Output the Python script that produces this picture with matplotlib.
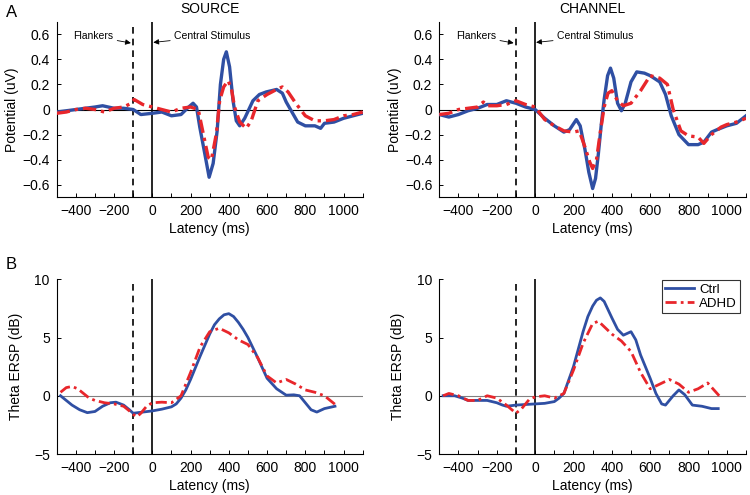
import matplotlib
matplotlib.use("Agg")
import matplotlib.pyplot as plt
from matplotlib.ticker import FuncFormatter, MultipleLocator

plt.rcParams['font.family'] = ['Liberation Sans', 'DejaVu Sans']

BLUE = '#2f4fa3'
RED = '#e8262b'

## ERP, source (uV)
src_ctrl_t = [-500, -450, -400, -350, -300, -260, -200, -150, -100, -60, 0, 50, 100, 150,
              190, 213, 231, 248, 274, 297, 318, 339, 356, 373, 387, 404, 422, 439, 457,
              483, 526, 560, 595, 650, 680, 700, 730, 760, 800, 850, 880, 900, 950, 1000,
              1050, 1100]
src_ctrl = [-0.02, -0.01, 0.0, 0.01, 0.02, 0.03, 0.01, 0.01, 0.0, -0.04, -0.03, -0.02, -0.05,
            -0.04, 0.02, 0.05, 0.02, -0.14, -0.35, -0.54, -0.43, -0.17, 0.2, 0.4, 0.46,
            0.34, 0.07, -0.09, -0.13, -0.07, 0.07, 0.12, 0.14, 0.16, 0.13, 0.06, -0.02,
            -0.10, -0.13, -0.13, -0.15, -0.11, -0.10, -0.07, -0.05, -0.03]

src_adhd_t = [-500, -450, -400, -350, -300, -250, -200, -150, -110, -95, -50, 0, 50, 100,
              150, 200, 240, 266, 292, 309, 335, 352, 373, 396, 413, 430, 457, 491, 517,
              552, 600, 650, 680, 710, 750, 800, 850, 900, 950, 1000, 1050, 1100]
src_adhd = [-0.03, -0.02, 0.0, 0.01, 0.0, -0.02, 0.01, 0.02, 0.05, 0.08, 0.04, 0.02, 0.0,
            -0.02, 0.01, 0.02, 0.0, -0.19, -0.38, -0.40, -0.19, 0.07, 0.18, 0.23, 0.17,
            0.02, -0.10, -0.15, -0.09, 0.07, 0.12, 0.16, 0.18, 0.14, 0.05, -0.05, -0.09,
            -0.09, -0.08, -0.05, -0.04, -0.02]

## ERP, channel (uV)
ch_ctrl_t = [-500, -450, -400, -350, -300, -250, -200, -150, -100, -50, 0, 50, 100, 150,
             180, 215, 235, 260, 280, 300, 315, 330, 345, 360, 378, 393, 410, 430, 450,
             470, 500, 530, 570, 600, 650, 680, 710, 750, 800, 850, 880, 920, 950, 1000,
             1050, 1100]
ch_ctrl = [-0.04, -0.06, -0.04, -0.01, 0.01, 0.04, 0.04, 0.07, 0.05, 0.02, 0.0, -0.07,
           -0.13, -0.18, -0.16, -0.08, -0.13, -0.32, -0.50, -0.63, -0.55, -0.35, -0.12,
           0.08, 0.27, 0.33, 0.25, 0.05, -0.01, 0.05, 0.22, 0.30, 0.29, 0.27, 0.22, 0.12,
           -0.05, -0.2, -0.28, -0.28, -0.26, -0.18, -0.16, -0.13, -0.11, -0.05]

ch_adhd_t = [-500, -450, -400, -350, -300, -270, -250, -200, -150, -100, -50, 0, 50, 100,
             150, 200, 230, 260, 285, 300, 320, 340, 360, 380, 400, 430, 460, 500, 550,
             600, 650, 690, 720, 760, 800, 850, 880, 920, 970, 1000, 1050, 1100]
ch_adhd = [-0.04, -0.03, 0.0, 0.01, 0.02, 0.06, 0.03, 0.03, 0.04, 0.07, 0.04, 0.02, -0.08,
           -0.13, -0.17, -0.18, -0.17, -0.3, -0.42, -0.47, -0.40, -0.18, 0.02, 0.13, 0.15,
           0.07, 0.03, 0.05, 0.15, 0.27, 0.25, 0.20, 0.0, -0.17, -0.21, -0.22, -0.27,
           -0.20, -0.14, -0.12, -0.10, -0.07]

## theta ERSP, source (dB)
src_ersp_ctrl_t = [-480, -450, -420, -380, -340, -300, -260, -220, -190, -150, -120, -100,
                   -50, 0, 50, 100, 125, 150, 175, 200, 250, 300, 325, 350, 375, 400, 425,
                   450, 475, 500, 550, 600, 650, 700, 740, 770, 800, 830, 860, 900, 955]
src_ersp_ctrl = [0.0, -0.4, -0.8, -1.2, -1.45, -1.35, -0.9, -0.6, -0.55, -0.8, -1.2, -1.5,
                 -1.4, -1.3, -1.15, -0.95, -0.7, -0.2, 0.5, 1.4, 3.4, 5.3, 6.1, 6.6, 6.95,
                 7.05, 6.8, 6.3, 5.7, 5.0, 3.3, 1.5, 0.6, 0.05, 0.08, 0.0, -0.6, -1.2, -1.4,
                 -1.1, -0.9]
src_ersp_adhd_t = [-480, -450, -420, -390, -360, -330, -300, -250, -200, -150, -120, -100,
                   -80, -60, -30, 0, 50, 100, 150, 200, 250, 300, 350, 400, 450, 500, 550,
                   600, 650, 700, 750, 800, 850, 900, 960]
src_ersp_adhd = [0.3, 0.7, 0.8, 0.6, 0.2, -0.2, -0.4, -0.6, -0.7, -0.9, -1.3, -1.6, -1.8,
                 -1.5, -0.9, -0.6, -0.55, -0.6, 0.0, 2.0, 4.2, 5.5, 5.8, 5.4, 4.8, 4.4,
                 3.3, 1.7, 1.1, 1.4, 1.0, 0.5, 0.3, 0.0, -0.8]

## theta ERSP, channel (dB)
ch_ersp_ctrl_t = [-480, -420, -380, -350, -300, -250, -200, -170, -150, -100, -50, 0, 50,
                  100, 125, 150, 200, 250, 275, 300, 320, 340, 360, 400, 430, 460, 500,
                  525, 550, 600, 630, 660, 680, 720, 750, 780, 820, 870, 920, 955]
ch_ersp_ctrl = [0.0, 0.0, -0.2, -0.4, -0.4, -0.4, -0.6, -0.8, -0.9, -0.8, -0.75, -0.7, -0.65,
                -0.5, -0.2, 0.2, 2.5, 5.5, 6.8, 7.7, 8.2, 8.4, 8.1, 6.7, 5.7, 5.2, 5.5, 4.8,
                3.5, 1.5, 0.2, -0.7, -0.8, 0.0, 0.5, 0.1, -0.8, -0.9, -1.1, -1.1]
ch_ersp_adhd_t = [-480, -450, -400, -350, -300, -250, -200, -150, -100, -70, -30, 0, 50, 100,
                  150, 200, 250, 300, 330, 400, 450, 500, 550, 600, 650, 700, 750, 800, 850,
                  900, 960]
ch_ersp_adhd = [0.0, 0.2, 0.0, -0.4, -0.4, 0.0, -0.2, -0.8, -1.5, -1.1, -0.3, -0.1, 0.0,
                -0.2, 0.2, 2.2, 4.5, 6.2, 6.4, 5.3, 4.7, 3.8, 2.0, 0.6, 1.0, 1.4, 1.0, 0.3,
                0.6, 1.1, 0.0]

flanker_ms = -100
stim_ms = 0


def fmt_num(v, pos):
    s = ('%g' % round(v, 2))
    return s.replace('-', '\u2212')


def style_axes(ax, ylim, ystep, zero_color):
    ax.set_xlim(-500, 1100)
    ax.set_ylim(*ylim)
    ax.xaxis.set_major_locator(MultipleLocator(100))
    ax.xaxis.set_major_formatter(FuncFormatter(
        lambda v, p: fmt_num(v, p) if round(v) % 200 == 0 else ''))
    ax.yaxis.set_major_locator(MultipleLocator(ystep))
    ax.yaxis.set_major_formatter(FuncFormatter(fmt_num))
    ax.spines['top'].set_visible(False)
    ax.spines['right'].set_visible(False)
    ax.spines['left'].set_linewidth(0.8)
    ax.spines['bottom'].set_linewidth(0.8)
    ax.tick_params(direction='in', length=3, width=0.7, labelsize=10, pad=5)
    ax.axhline(0, color=zero_color, lw=0.8, zorder=1)
    ax.axvline(flanker_ms, color='black', ls=(0, (4, 3)), lw=1.2, zorder=1)
    ax.axvline(stim_ms, color='black', lw=1.2, zorder=1)
    ax.set_xlabel('Latency (ms)', fontsize=10, labelpad=3)


def add_markers(ax):
    ax.annotate('Flankers', xy=(-112, 0.53), xytext=(-205, 0.585), fontsize=7.5,
                ha='right', va='center',
                arrowprops=dict(arrowstyle='-|>', color='black', lw=0.6,
                                mutation_scale=8, shrinkA=1, shrinkB=0))
    ax.annotate('Central Stimulus', xy=(5, 0.535), xytext=(115, 0.585), fontsize=7.5,
                ha='left', va='center',
                arrowprops=dict(arrowstyle='-|>', color='black', lw=0.6,
                                mutation_scale=8, shrinkA=1, shrinkB=0))


fig = plt.figure(figsize=(7.5, 4.95), dpi=100)
ax1 = fig.add_axes([0.0756, 0.6014, 0.408, 0.3547])
ax2 = fig.add_axes([0.5857, 0.6014, 0.409, 0.3547])
ax3 = fig.add_axes([0.0756, 0.0828, 0.408, 0.353])
ax4 = fig.add_axes([0.5857, 0.0828, 0.409, 0.353])

# top row: ERPs
for ax, tc, c, ta, a, title in [(ax1, src_ctrl_t, src_ctrl, src_adhd_t, src_adhd, 'SOURCE'),
                                (ax2, ch_ctrl_t, ch_ctrl, ch_adhd_t, ch_adhd, 'CHANNEL')]:
    style_axes(ax, (-0.7, 0.7), 0.2, 'black')
    ax.plot(tc, c, color=BLUE, lw=2.4, zorder=3)
    ax.plot(ta, a, color=RED, lw=2.4, ls=(0, (4, 1.5, 1, 1.5)), zorder=4)
    ax.set_ylabel('Potential (uV)', fontsize=10, labelpad=2)
    ax.set_title(title, fontsize=10, pad=6)
    add_markers(ax)

# bottom row: theta ERSP
for ax, tc, c, ta, a in [(ax3, src_ersp_ctrl_t, src_ersp_ctrl, src_ersp_adhd_t, src_ersp_adhd),
                         (ax4, ch_ersp_ctrl_t, ch_ersp_ctrl, ch_ersp_adhd_t, ch_ersp_adhd)]:
    style_axes(ax, (-5, 10), 5, '#808080')
    ax.plot(tc, c, color=BLUE, lw=2.0, zorder=3, label='Ctrl')
    ax.plot(ta, a, color=RED, lw=2.0, ls=(0, (4, 1.5, 1, 1.5)), zorder=4, label='ADHD')
    ax.set_ylabel('Theta ERSP (dB)', fontsize=10, labelpad=8)

leg = ax4.legend(loc='upper right', fontsize=9.5, frameon=True, fancybox=False,
                 handlelength=2.2, borderpad=0.25, labelspacing=0.15, handletextpad=0.4,
                 borderaxespad=0.2, bbox_to_anchor=(0.99, 1.01))
leg.get_frame().set_edgecolor('black')
leg.get_frame().set_linewidth(0.8)

fig.text(0.008, 0.975, 'A', fontsize=12, va='center')
fig.text(0.008, 0.466, 'B', fontsize=12, va='center')

fig.savefig('out.png', dpi=100)
